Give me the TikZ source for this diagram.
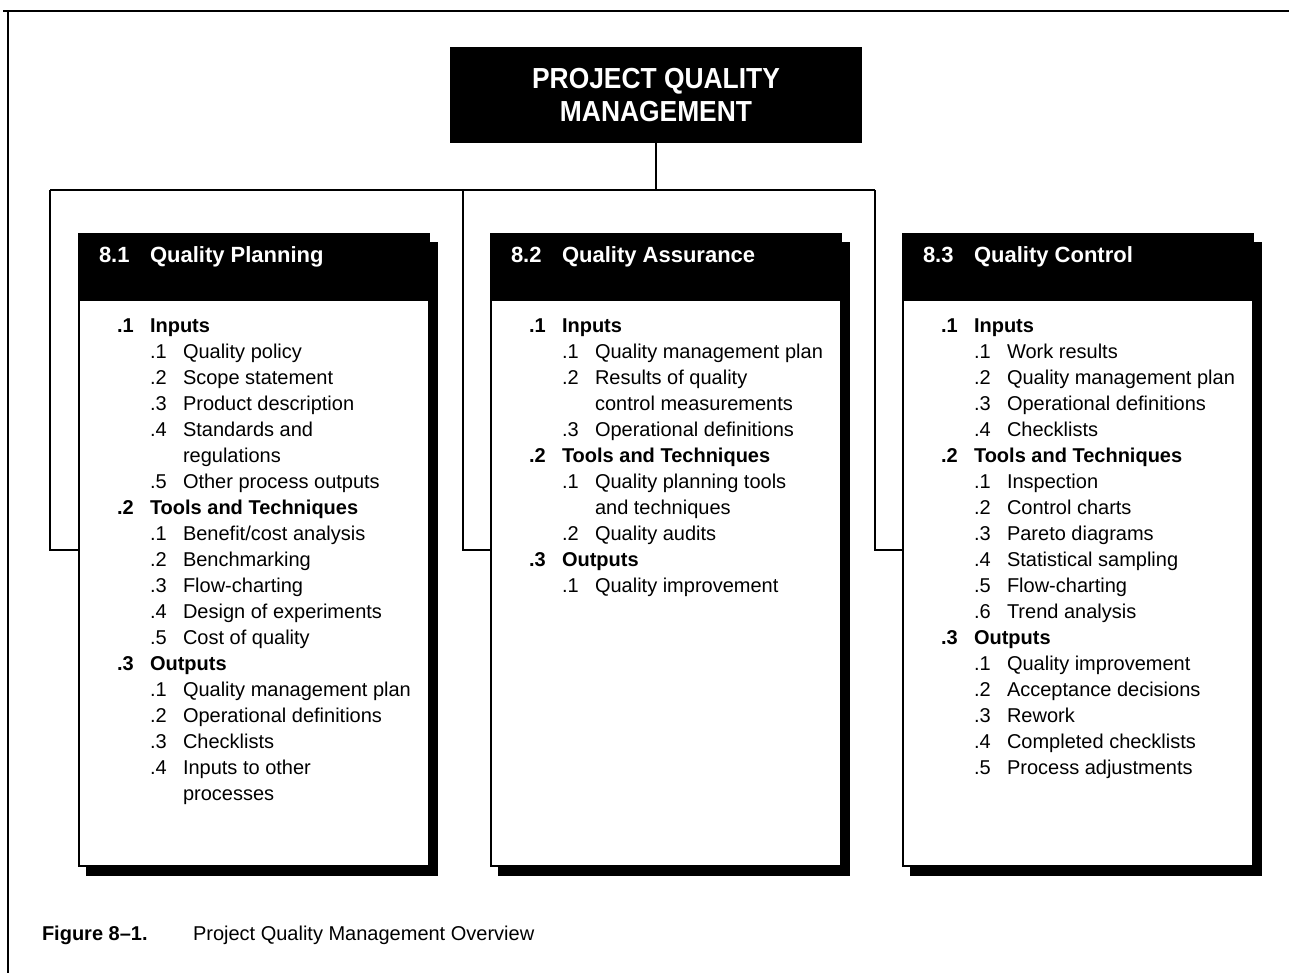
\documentclass[tikz,border=0pt]{standalone}
\usepackage{fontspec}
\setmainfont{Liberation Sans}
\newfontfamily\titlefont[FakeStretch=0.91]{Liberation Sans}
\tikzset{
  every node/.style={inner sep=0pt, outer sep=0pt},
  item/.style={anchor=base west, font=\fontsize{20}{24}\selectfont},
  itembold/.style={anchor=base west, font=\fontsize{20}{24}\selectfont\bfseries},
  headtxt/.style={anchor=base west, text=white, font=\fontsize{22}{26}\selectfont\bfseries},
  boxbody/.style={draw=black, line width=1.2pt, fill=white, minimum width=350pt, minimum height=632pt, anchor=north west},
  boxhead/.style={fill=black, minimum width=351pt, minimum height=67pt, anchor=north west},
  boxshadow/.style={fill=black, minimum width=352pt, minimum height=634pt, anchor=north west},
  conn/.style={line width=1.8pt},
  framestyle/.style={line width=2.6pt},
}
\newcommand\qcol[4]{%
  \node[boxshadow] (#1s) at ({#2+7},242) {};
  \node[boxbody] (#1) at (#2,234) {};
  \node[boxhead] (#1h) at (#2,234) {};
  \node[headtxt] (#1hn) at ({#2+20},263) {#3};
  \node[headtxt] (#1ht) at ({#2+71},263) {#4};
}
\newcommand\qhead[3]{%
  \node[itembold] (\colname#1n) at ({\colx+38},{332+26*#1}) {#2};
  \node[itembold] (\colname#1t) at ({\colx+71},{332+26*#1}) {#3};
}
\newcommand\qitem[3]{%
  \node[item] (\colname#1n) at ({\colx+71},{332+26*#1}) {#2};
  \node[item] (\colname#1t) at ({\colx+104},{332+26*#1}) {#3};
}
\newcommand\qcont[2]{%
  \node[item] (\colname#1t) at ({\colx+104},{332+26*#1}) {#2};
}
\begin{document}
\begin{tikzpicture}[x=1pt,y=-1pt]
\useasboundingbox (0,0) rectangle (1289,973);
\fill[white] (0,0) rectangle (1289,973);
% frame
\draw[framestyle] (3,11) -- (1289,11);
\draw[framestyle] (8,11) -- (8,973);
% title
\node[fill=black, minimum width=412pt, minimum height=96pt, text=white, align=center,
      font=\titlefont\fontsize{29}{33}\selectfont\bfseries] (top) at (656,95)
      {PROJECT QUALITY\\MANAGEMENT};
% columns
\qcol{qa}{79}{8.1}{Quality Planning}
\qcol{qb}{491}{8.2}{Quality Assurance}
\qcol{qc}{903}{8.3}{Quality Control}
% connectors
\coordinate (ja) at (50,190);
\coordinate (jb) at (463,190);
\coordinate (jc) at (875,190);
\draw[conn] (top.south) -- (top.south |- ja);
\draw[conn] (ja) -- (jc);
\draw[conn] (ja) |- (qa.west);
\draw[conn] (jb) |- (qb.west);
\draw[conn] (jc) |- (qc.west);
% column A
\def\colx{79}\def\colname{a}
\qhead{0}{.1}{Inputs}
\qitem{1}{.1}{Quality policy}
\qitem{2}{.2}{Scope statement}
\qitem{3}{.3}{Product description}
\qitem{4}{.4}{Standards and}
\qcont{5}{regulations}
\qitem{6}{.5}{Other process outputs}
\qhead{7}{.2}{Tools and Techniques}
\qitem{8}{.1}{Benefit/cost analysis}
\qitem{9}{.2}{Benchmarking}
\qitem{10}{.3}{Flow-charting}
\qitem{11}{.4}{Design of experiments}
\qitem{12}{.5}{Cost of quality}
\qhead{13}{.3}{Outputs}
\qitem{14}{.1}{Quality management plan}
\qitem{15}{.2}{Operational definitions}
\qitem{16}{.3}{Checklists}
\qitem{17}{.4}{Inputs to other}
\qcont{18}{processes}
% column B
\def\colx{491}\def\colname{b}
\qhead{0}{.1}{Inputs}
\qitem{1}{.1}{Quality management plan}
\qitem{2}{.2}{Results of quality}
\qcont{3}{control measurements}
\qitem{4}{.3}{Operational definitions}
\qhead{5}{.2}{Tools and Techniques}
\qitem{6}{.1}{Quality planning tools}
\qcont{7}{and techniques}
\qitem{8}{.2}{Quality audits}
\qhead{9}{.3}{Outputs}
\qitem{10}{.1}{Quality improvement}
% column C
\def\colx{903}\def\colname{c}
\qhead{0}{.1}{Inputs}
\qitem{1}{.1}{Work results}
\qitem{2}{.2}{Quality management plan}
\qitem{3}{.3}{Operational definitions}
\qitem{4}{.4}{Checklists}
\qhead{5}{.2}{Tools and Techniques}
\qitem{6}{.1}{Inspection}
\qitem{7}{.2}{Control charts}
\qitem{8}{.3}{Pareto diagrams}
\qitem{9}{.4}{Statistical sampling}
\qitem{10}{.5}{Flow-charting}
\qitem{11}{.6}{Trend analysis}
\qhead{12}{.3}{Outputs}
\qitem{13}{.1}{Quality improvement}
\qitem{14}{.2}{Acceptance decisions}
\qitem{15}{.3}{Rework}
\qitem{16}{.4}{Completed checklists}
\qitem{17}{.5}{Process adjustments}
% caption
\node[anchor=base west, font=\fontsize{20}{24}\selectfont\bfseries] (figlab) at (42,940) {Figure 8–1.};
\node[anchor=base west, font=\fontsize{20}{24}\selectfont] (figtxt) at (193,940) {Project Quality Management Overview};
\end{tikzpicture}
\end{document}
